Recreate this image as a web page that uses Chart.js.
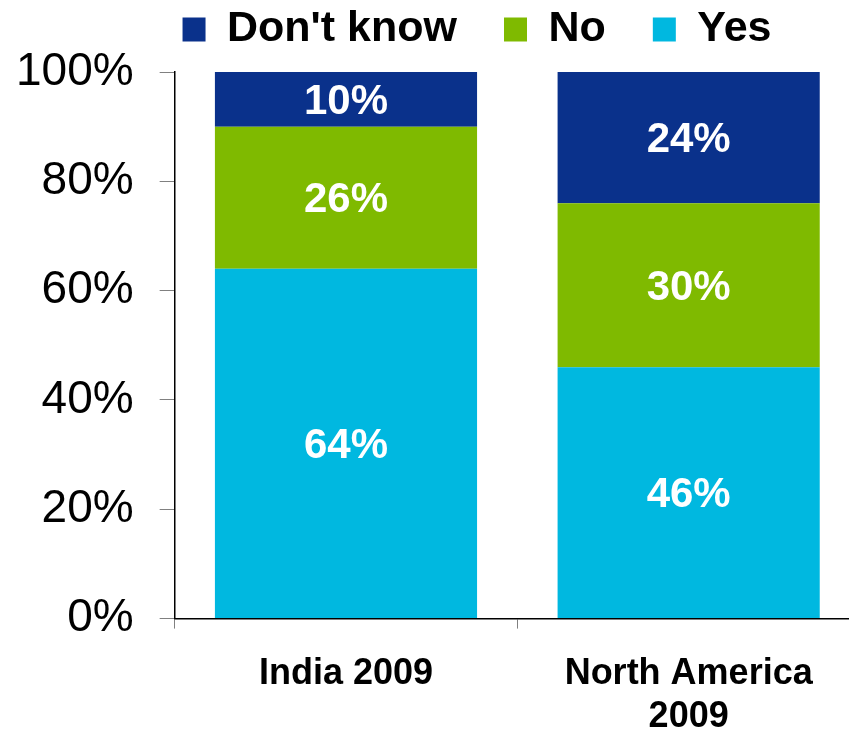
<!DOCTYPE html>
<html>
<head>
<meta charset="utf-8">
<script src="https://cdn.jsdelivr.net/npm/chart.js@4.4.0/dist/chart.umd.min.js"></script>
<style>
  html, body { margin: 0; padding: 0; background: #fff; overflow: hidden; }
  #canvas { display: block; }
</style>
</head>
<body>
<canvas id="canvas" width="870" height="731"></canvas>
<script>
let categories = ["India 2009", ["North America", "2009"]];
let yesValues = [64, 46];
let noValues = [26, 30];
let dontKnowValues = [10, 24];
let yTicks = [0, 20, 40, 60, 80, 100];

Chart.defaults.font.family = "'Liberation Sans', Arial, sans-serif";
Chart.defaults.color = "#000";

// white percentage labels in the middle of each segment
let segmentLabels = {
    id: "segmentLabels",
    afterDatasetsDraw(chart) {
        let ctx = chart.ctx;
        ctx.save();
        ctx.fillStyle = "#fff";
        ctx.font = "bold 42px 'Liberation Sans', Arial, sans-serif";
        ctx.textAlign = "center";
        ctx.textBaseline = "middle";
        chart.data.datasets.forEach((ds, i) => {
            chart.getDatasetMeta(i).data.forEach((bar, j) => {
                let p = bar.getProps(["x", "y", "base"], true);
                ctx.fillText(ds.data[j] + "%", p.x, (p.y + p.base) / 2 + 3);
            });
        });
        ctx.restore();
    }
};

// the legend in the original sits a bit right of centre and close to the top
let legendNudge = {
    id: "legendNudge",
    afterLayout(chart) {
        let lg = chart.legend;
        let dx = 477 - (lg.left + lg.right) / 2;
        lg.left += dx;
        lg.right += dx;
        lg.top -= 11;
        lg.bottom -= 11;
    }
};

let chart = new Chart(document.getElementById("canvas").getContext("2d"), {
    type: "bar",
    data: {
        labels: categories,
        datasets: [
            { label: "Yes", data: yesValues, backgroundColor: "#00b8e0" },
            { label: "No", data: noValues, backgroundColor: "#7fba00" },
            { label: "Don't know", data: dontKnowValues, backgroundColor: "#0a318b" }
        ]
    },
    options: {
        responsive: false,
        animation: false,
        devicePixelRatio: 1,
        datasets: {
            bar: { barPercentage: 0.765, categoryPercentage: 1 }
        },
        layout: {
            padding: { left: -10, right: 10, top: -28, bottom: -32 }
        },
        scales: {
            x: {
                stacked: true,
                grid: { drawOnChartArea: false, tickLength: 10, color: "#808080" },
                border: { color: "#000", width: 1.5 },
                ticks: {
                    padding: 24,
                    maxRotation: 0,
                    autoSkip: false,
                    font: { size: 36, weight: "bold" }
                }
            },
            y: {
                stacked: true,
                min: 0,
                max: 100,
                afterBuildTicks: (scale) => { scale.ticks = yTicks.map(v => ({ value: v })); },
                grid: { drawOnChartArea: false, tickLength: 15, color: "#808080" },
                border: { color: "#000", width: 1.5 },
                ticks: {
                    padding: 26,
                    font: { size: 46 },
                    callback: (v) => v + "%"
                }
            }
        },
        plugins: {
            legend: {
                reverse: true,
                labels: {
                    boxWidth: 23,
                    boxHeight: 24,
                    padding: 47,
                    font: { size: 43, weight: "bold" }
                }
            },
            tooltip: { enabled: false }
        }
    },
    plugins: [segmentLabels, legendNudge]
});
</script>
</body>
</html>
